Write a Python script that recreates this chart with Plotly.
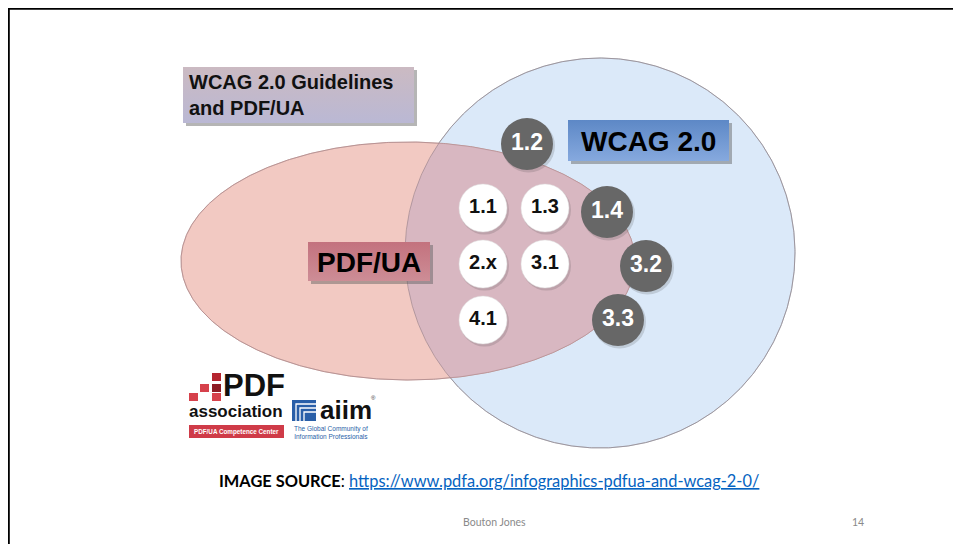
import numpy as np
import plotly.graph_objects as go

W, H = 961, 544
OFF = 8  # page body margin in the browser

# ---- data ----
white_labels = ["1.1", "1.3", "2.x", "3.1", "4.1"]
white_x = [483, 545, 483, 545, 483]
white_y = [208, 208, 264, 264, 320]

gray_labels = ["1.2", "1.4", "3.2", "3.3"]
gray_x = [527, 607, 646, 618]
gray_y = [144, 212, 266, 320]

# set shapes: (center x, center y, radius x, radius y)
wcag_set = (600, 253, 195, 195)
pdfua_set = (408, 261, 227, 119)

fig = go.Figure()


def ellipse_pts(cx, cy, rx, ry, n=721):
    t = np.linspace(0, 2 * np.pi, n)
    return cx + rx * np.cos(t), cy + ry * np.sin(t)


cx1, cy1, rx1, ry1 = wcag_set
cx2, cy2, rx2, ry2 = pdfua_set
bx, by = ellipse_pts(*wcag_set)
ex, ey = ellipse_pts(*pdfua_set)

# intersection polygon
in_c = ((ex - cx1) / rx1) ** 2 + ((ey - cy1) / ry1) ** 2 <= 1
in_e = ((bx - cx2) / rx2) ** 2 + ((by - cy2) / ry2) ** 2 <= 1
ix = np.concatenate([ex[in_c], bx[in_e]])
iy = np.concatenate([ey[in_c], by[in_e]])
mx, my = ix.mean(), iy.mean()
order = np.argsort(np.arctan2(iy - my, ix - mx))
ix, iy = ix[order], iy[order]
ix = np.append(ix, ix[0]); iy = np.append(iy, iy[0])

fig.add_trace(go.Scatter(x=bx, y=by, fill="toself", fillcolor="#dbe9f9",
                         line=dict(color="#b0b8c0", width=1), mode="lines", hoverinfo="skip"))
fig.add_trace(go.Scatter(x=ex, y=ey, fill="toself", fillcolor="#f2c9c2",
                         line=dict(color="#cba8a3", width=1), mode="lines", hoverinfo="skip"))
fig.add_trace(go.Scatter(x=ix, y=iy, fill="toself", fillcolor="#d8b7c1",
                         line=dict(width=0), mode="lines", hoverinfo="skip"))
fig.add_trace(go.Scatter(x=bx, y=by, line=dict(color="rgba(140,120,130,0.55)", width=1),
                         mode="lines", hoverinfo="skip"))
fig.add_trace(go.Scatter(x=ex, y=ey, line=dict(color="rgba(170,130,135,0.55)", width=1),
                         mode="lines", hoverinfo="skip"))


def box(x0, y0, x1, y1, top, bottom):
    # shadow
    fig.add_trace(go.Scatter(x=[x0 + 3, x1 + 3, x1 + 3, x0 + 3, x0 + 3],
                             y=[y0 + 3, y0 + 3, y1 + 3, y1 + 3, y0 + 3],
                             fill="toself", fillcolor="rgba(90,90,90,0.45)",
                             line=dict(width=0), mode="lines", hoverinfo="skip"))
    fig.add_trace(go.Scatter(x=[x0, x1, x1, x0, x0], y=[y0, y0, y1, y1, y0],
                             fill="toself",
                             fillgradient=dict(type="vertical",
                                               colorscale=[[0, top], [1, bottom]]),
                             line=dict(width=0), mode="lines", hoverinfo="skip"))


box(183, 67, 414, 123, "#bab8d4", "#cbbac2")
box(568, 120, 729, 161, "#86a9de", "#5d88c6")
box(308, 242, 430, 281, "#cd8d96", "#c3727e")

# shadows of small circles
fig.add_trace(go.Scatter(x=[v + 1.5 for v in white_x + gray_x],
                         y=[v + 2 for v in white_y + gray_y], mode="markers",
                         marker=dict(size=[49] * 5 + [53] * 4, color="rgba(60,60,60,0.25)",
                                     line=dict(width=0)), hoverinfo="skip"))
fig.add_trace(go.Scatter(x=white_x, y=white_y, mode="markers+text", text=white_labels,
                         textposition="middle center",
                         textfont=dict(family="Liberation Sans", size=20, color="#111111",
                                       weight="bold"),
                         marker=dict(size=48, color="white", line=dict(width=0.5, color="#dddddd")),
                         hoverinfo="skip"))
fig.add_trace(go.Scatter(x=gray_x, y=gray_y, mode="markers+text", text=gray_labels,
                         textposition="middle center",
                         textfont=dict(family="Liberation Sans", size=23, color="white",
                                       weight="bold"),
                         marker=dict(size=52, color="#676767", line=dict(width=0)),
                         hoverinfo="skip"))

ann = []
ann.append(dict(x=187, y=95, xanchor="left", yanchor="middle", align="left",
                text="<b>WCAG 2.0 Guidelines<br>and PDF/UA</b>",
                font=dict(family="Liberation Sans", size=20, color="#111111")))
ann.append(dict(x=648, y=141, xanchor="center", yanchor="middle",
                text="<b>WCAG 2.0</b>",
                font=dict(family="Liberation Sans", size=28, color="#000000")))
ann.append(dict(x=369, y=262, xanchor="center", yanchor="middle",
                text="<b>PDF/UA</b>",
                font=dict(family="Liberation Sans", size=28, color="#000000")))

# logo (approximation)
ann.append(dict(x=221, y=385, xanchor="left", yanchor="middle", text="<b>PDF</b>",
                font=dict(family="Liberation Sans", size=31, color="#111111")))
ann.append(dict(x=187, y=411, xanchor="left", yanchor="middle", text="<b>association</b>",
                font=dict(family="Liberation Sans", size=17, color="#111111")))
ann.append(dict(x=236, y=431.5, xanchor="center", yanchor="middle",
                text="<b>PDF/UA Competence Center</b>",
                font=dict(family="Liberation Sans", size=6.3, color="white")))
ann.append(dict(x=318, y=410, xanchor="left", yanchor="middle", text="<b>aiim</b>",
                font=dict(family="Liberation Sans", size=26, color="#111111")))
ann.append(dict(x=373, y=398, xanchor="center", yanchor="middle", text="®",
                font=dict(family="Liberation Sans", size=6, color="#333333")))
ann.append(dict(x=292, y=432, xanchor="left", yanchor="middle",
                text="The Global Community of<br>Information Professionals",
                font=dict(family="Liberation Sans", size=6.5, color="#2a5fa8")))

# footer
ann.append(dict(x=489, y=480, xanchor="center", yanchor="middle",
                text="<b>IMAGE SOURCE</b>: <a href='https://www.pdfa.org/infographics-pdfua-and-wcag-2-0/' "
                     "style='color:#0563c1'><u>https://www.pdfa.org/infographics-pdfua-and-wcag-2-0/</u></a>",
                font=dict(family="Lato", size=16.4, color="#000000")))
ann.append(dict(x=494, y=522, xanchor="center", yanchor="middle", text="Bouton Jones",
                font=dict(family="Lato", size=10.5, color="#8a8a8a")))
ann.append(dict(x=858, y=522, xanchor="center", yanchor="middle", text="14",
                font=dict(family="Lato", size=10.5, color="#8a8a8a")))
for a in ann:
    a.update(xref="x", yref="y", showarrow=False)

shapes = []
# frame
shapes.append(dict(type="line", x0=8.8, x1=961, y0=8.8, y1=8.8, line=dict(color="black", width=2),
                   layer="above"))
shapes.append(dict(type="line", x0=8.8, x1=8.8, y0=8, y1=544, line=dict(color="black", width=2),
                   layer="above"))
# logo squares
for (x0, y0, c) in [(212, 373, "#b5252f"), (200, 384, "#d6414b"), (212, 384, "#8e1c24"),
                    (189, 393, "#d6414b"), (212, 393, "#d6414b")]:
    shapes.append(dict(type="rect", x0=x0, x1=x0 + 9, y0=y0, y1=y0 + 8, fillcolor=c,
                       line=dict(width=0), layer="above"))
# red banner
shapes.append(dict(type="rect", x0=189, x1=284, y0=425, y1=438, fillcolor="#cf3b48",
                   line=dict(width=0), layer="below"))
# aiim icon
shapes.append(dict(type="rect", x0=292, x1=316, y0=400, y1=421, fillcolor="#2a5fa8",
                   line=dict(width=0), layer="below"))
for k in range(3):
    shapes.append(dict(type="path",
                       path=f"M {296 + 4*k} 421 L {296 + 4*k} {404 + 4*k} L 316 {404 + 4*k}",
                       line=dict(color="white", width=1.3), layer="above"))

fig.update_layout(
    width=W - OFF, height=H - OFF, margin=dict(l=0, r=0, t=0, b=0),
    paper_bgcolor="white", plot_bgcolor="white", showlegend=False,
    xaxis=dict(range=[OFF, W], visible=False, fixedrange=True),
    yaxis=dict(range=[H, OFF], visible=False, fixedrange=True),
    annotations=ann, shapes=shapes,
)

fig.write_html("out.html")
